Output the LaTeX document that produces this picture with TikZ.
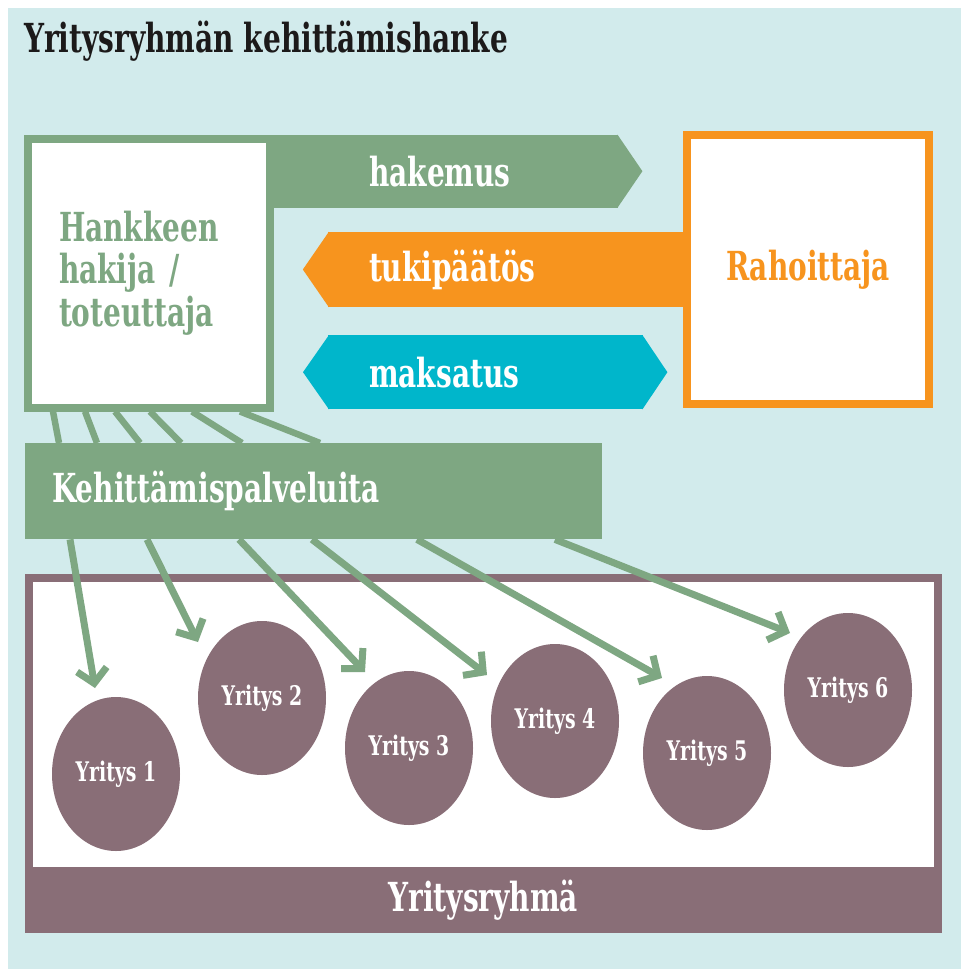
\documentclass[tikz,border=0pt]{standalone}
\usepackage{fontspec}
\usetikzlibrary{shapes.geometric, arrows.meta, positioning, calc}
\newfontfamily\slab{DejaVu Serif}[FakeStretch=0.7]

\definecolor{tausta}{HTML}{D2EBEC}
\definecolor{vihrea}{HTML}{7EA782}
\definecolor{oranssi}{HTML}{F7941E}
\definecolor{turkoosi}{HTML}{00B6CB}
\definecolor{luumu}{HTML}{896E77}
\definecolor{musta}{HTML}{1C1A1A}

\begin{document}
\begin{tikzpicture}[
    x=1pt, y=-1pt,
    every node/.style={inner sep=0pt, font=\slab\bfseries\fontsize{40}{42.5}\selectfont},
    box/.style={rectangle, draw, fill=white, line width=8pt, minimum width=242pt, minimum height=269pt},
    band/.style={rectangle, fill=vihrea, text=white, align=left},
    firm/.style={ellipse, fill=luumu, text=white, minimum width=128pt, minimum height=154pt, font=\slab\bfseries\fontsize{27}{30}\selectfont},
    feed/.style={vihrea, line width=6.5pt},
    serve/.style={vihrea, line width=7pt, -{Straight Barb[length=14pt, width=30pt]}}
]
\useasboundingbox (0,0) rectangle (961,969);
\fill[tausta] (8,8) rectangle (961,969);

\node[anchor=base west, text=musta] (otsikko) at (24,52) {Yritysryhmän kehittämishanke};

% hakija ja rahoittaja
\node[box, draw=vihrea, text=vihrea, text width=180pt, align=left, inner xsep=31pt] (hakija) at (149,273) {Hankkeen\\hakija /\\toteuttaja};
\node[box, draw=oranssi, line width=7.5pt, text=oranssi] (rahoittaja) at (808,269.5) {Rahoittaja};

% nuolet
\node[band, anchor=north west, minimum height=73pt, text width=154pt, inner xsep=95pt] (hakemus) at (hakija.north east) {hakemus};
\fill[vihrea] ($(hakemus.north east)+(-1,0)$) -- ($(hakemus.east)+(24,0)$) -- ($(hakemus.south east)+(-1,0)$) -- cycle;
\node[band, fill=oranssi, anchor=east, minimum height=75pt, text width=273pt, inner xsep=41pt] (tukipaatos) at (rahoittaja.west) {tukipäätös};
\fill[oranssi] ($(tukipaatos.north west)+(1,0)$) -- ($(tukipaatos.west)+(-25,0)$) -- ($(tukipaatos.south west)+(1,0)$) -- cycle;
\node[band, fill=turkoosi, anchor=north west, minimum height=74pt, text width=233pt, inner xsep=41pt] (maksatus) at (328,335) {maksatus};
\fill[turkoosi] ($(maksatus.north west)+(1,0)$) -- ($(maksatus.west)+(-25,0)$) -- ($(maksatus.south west)+(1,0)$) -- cycle;
\fill[turkoosi] ($(maksatus.north east)+(-1,0)$) -- ($(maksatus.east)+(24,0)$) -- ($(maksatus.south east)+(-1,0)$) -- cycle;

% palvelut
\node[band, anchor=north west, minimum height=96pt, text width=522.5pt, inner xsep=27.5pt] (palvelut) at (24.5,443) {Kehittämispalveluita};
\draw[feed] ($(hakija.south west)+(29,0)$) -- ($(palvelut.north west)+(34.5,0)$);
\draw[feed] ($(hakija.south west)+(61,0)$) -- ($(palvelut.north west)+(72.5,0)$);
\draw[feed] ($(hakija.south west)+(91,0)$) -- ($(palvelut.north west)+(115.5,0)$);
\draw[feed] ($(hakija.south west)+(126,0)$) -- ($(palvelut.north west)+(156.5,0)$);
\draw[feed] ($(hakija.south west)+(168,0)$) -- ($(palvelut.north west)+(217.5,0)$);
\draw[feed] ($(hakija.south west)+(216,0)$) -- ($(palvelut.north west)+(295.5,0)$);

% yritysryhma
\node[rectangle, draw=luumu, fill=white, line width=8pt, minimum width=909.5pt, minimum height=351pt] (ryhma) at (483.25,753.5) {};
\node[band, fill=luumu, anchor=south, minimum width=917.5pt, minimum height=66pt] (ryhmapalkki) at (ryhma.south) {Yritysryhmä};

\node[firm] (y1) at (116,774) {Yritys 1};
\node[firm] (y2) at (262,698) {Yritys 2};
\node[firm] (y3) at (409,748) {Yritys 3};
\node[firm] (y4) at (555,721) {Yritys 4};
\node[firm] (y5) at (707,753) {Yritys 5};
\node[firm] (y6) at (848,690) {Yritys 6};

\draw[serve] ($(palvelut.south west)+(45.5,0)$) -- ($(y1)+(-21,-86)$);
\draw[serve] ($(palvelut.south west)+(122.5,0)$) -- ($(y2)+(-64,-56)$);
\draw[serve] ($(palvelut.south west)+(214.5,0)$) -- ($(y3)+(-44,-76)$);
\draw[serve] ($(palvelut.south west)+(287.5,0)$) -- ($(y4)+(-68,-46)$);
\draw[serve] ($(palvelut.south west)+(392.5,0)$) -- ($(y5)+(-45,-75)$);
\draw[serve] ($(palvelut.south west)+(530.5,0)$) -- ($(y6)+(-58,-57)$);
\end{tikzpicture}
\end{document}
